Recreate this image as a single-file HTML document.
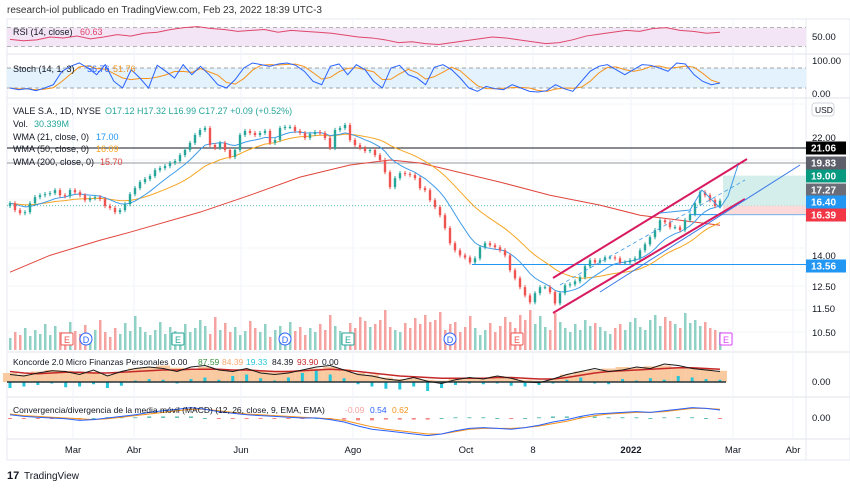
<!DOCTYPE html>
<html><head><meta charset="utf-8">
<style>
body{margin:0;background:#fff;width:850px;height:488px;overflow:hidden;font-family:"Liberation Sans",sans-serif}
svg{display:block}
text{font-family:"Liberation Sans",sans-serif}
</style></head>
<body>
<svg id="c" width="850" height="488" viewBox="0 0 850 488">
<text x="7" y="13" font-size="10" fill="#333">research-iol publicado en TradingView.com, Feb 23, 2022 18:39 UTC-3</text>
<g id="frame">
<rect x="7" y="19" width="843" height="441" fill="none" stroke="#e6e9ef"/>
<line x1="806" y1="19" x2="806" y2="460" stroke="#e6e9ef"/>
<line x1="7" y1="54" x2="850" y2="54" stroke="#e0e3eb"/>
<line x1="7" y1="98" x2="850" y2="98" stroke="#e0e3eb"/>
<line x1="7" y1="352" x2="850" y2="352" stroke="#e0e3eb"/>
<line x1="7" y1="397" x2="850" y2="397" stroke="#e0e3eb"/>
<line x1="7" y1="439" x2="850" y2="439" stroke="#e0e3eb"/>
</g>
<g id="grid"></g>
<g id="panes"></g>
<g id="main"></g>
<g id="labels"></g>
<g><text x="7" y="479" font-size="11" font-weight="bold" fill="#131722">17</text><text x="24" y="479" font-size="10" fill="#131722">TradingView</text></g>
</svg>
<script>
const closes=[17.11,16.67,16.48,16.54,17.11,17.51,17.64,17.71,17.78,17.98,17.64,17.57,17.98,17.84,17.64,17.31,17.44,17.51,17.38,16.93,16.80,16.54,16.67,17.05,17.71,18.12,18.54,18.75,18.97,19.40,19.55,19.70,19.93,20.08,20.54,20.94,21.51,22.17,22.59,22.76,21.34,21.10,21.51,20.94,20.39,20.94,22.17,22.51,22.34,22.17,22.34,22.51,21.51,21.75,22.76,22.85,22.85,22.51,22.34,21.92,22.25,22.42,22.34,21.92,21.10,22.59,22.76,23.03,21.75,21.34,21.10,20.86,20.94,20.54,20.16,19.25,18.19,18.82,19.18,19.11,19.04,18.82,18.12,17.98,17.31,16.86,16.35,15.57,14.70,14.31,14.04,13.93,13.67,13.88,14.48,14.70,14.59,14.48,14.31,14.04,13.27,12.87,12.44,12.06,11.75,12.16,12.44,12.44,12.21,11.70,12.16,12.53,12.58,12.72,12.92,13.47,13.78,13.67,13.78,13.93,13.93,13.88,13.67,13.67,13.78,13.88,14.31,14.64,15.04,15.45,16.04,15.92,15.62,15.62,15.45,16.04,16.41,17.11,17.84,17.64,17.31,16.93,17.27];
const volumes=[12,18,15,22,14,20,16,26,15,24,18,13,28,19,16,25,15,20,30,18,13,22,16,27,19,34,23,18,15,20,28,16,23,19,13,26,18,22,30,24,16,33,20,27,18,23,15,19,29,22,18,26,13,20,24,16,28,19,23,15,22,18,26,20,35,24,19,16,27,22,33,29,23,26,30,40,23,20,18,27,22,32,26,35,28,30,38,20,26,28,18,23,34,22,15,20,27,18,24,33,28,22,35,30,40,26,34,23,20,37,28,22,18,26,20,30,24,27,23,19,16,22,26,20,28,32,23,20,30,35,24,33,29,26,22,37,27,30,24,28,22,20,18];
const ma200Idx=[0,8,18,24,38,48,58,68,76,82,88,98,108,118,126,134,142];
const ma200Val=[13.17,14.04,14.87,15.33,16.54,17.64,18.89,19.78,20.16,19.93,19.40,18.54,17.64,16.99,16.35,16.04,15.74];
const rsiVals=[45,42,44,50,48,52,46,50,55,52,58,60,66,70,72,68,66,62,64,66,60,64,62,60,58,54,50,48,44,38,40,36,34,38,42,46,50,48,44,40,36,38,44,52,56,60,64,62,68,70,64,62,58,60];
const stochK=[20,15,18,12,20,30,70,85,95,80,60,90,40,20,75,50,20,88,70,50,90,60,85,60,30,20,45,80,95,90,85,92,95,88,70,40,30,85,92,60,90,75,40,20,80,88,60,50,30,82,90,75,50,20,10,25,18,15,30,20,10,8,12,30,18,10,40,70,85,90,75,60,75,90,88,80,70,95,92,60,40,30,35];
const koncOrange=[12,10,14,16,15,12,14,10,13,18,20,22,19,18,20,16,15,17,14,13,15,16,18,20,17,12,10,6,4,5,3,2,4,6,5,8,6,3,2,4,10,14,16,18,20,19,21,22,20,18,17,15];
const koncCyan=[-8,-6,-4,-2,-7,-6,-3,-8,-5,2,4,3,-2,4,6,3,8,10,5,2,6,12,16,10,5,-3,-6,-9,-10,-6,-12,-8,-4,-2,-3,-2,-5,-6,-4,-2,3,6,-2,-3,4,2,5,3,8,6,4,3];
const koncBlack=[10,8,12,15,14,10,16,8,14,18,20,18,14,20,22,16,14,18,12,10,12,16,20,22,16,10,8,4,2,6,1,-2,3,6,4,8,5,0,-1,4,10,14,18,14,16,20,18,24,22,18,16,14];
const koncRed=[14,12,11,12,13,13,12,12,13,14,15,16,16,17,17,17,16,16,15,14,14,15,16,17,16,14,12,10,8,7,6,5,5,5,5,6,6,5,4,4,6,9,12,14,15,16,17,18,19,19,18,17];
const macdLine=[4,2,1,0,-1,-3,-2,0,2,4,7,9,11,13,11,8,6,4,3,2,1,0,0,-2,-5,-10,-14,-16,-18,-20,-22,-20,-16,-13,-12,-13,-14,-12,-9,-5,-2,2,5,6,7,8,7,9,11,13,12,10];
const macdSignal=[5,3,2,1,0,-1,-2,-1,1,3,5,7,9,11,11,9,7,5,4,3,2,1,0,-1,-3,-7,-11,-14,-16,-18,-20,-20,-17,-14,-13,-13,-13,-12,-10,-7,-4,0,3,5,6,7,7,8,10,12,12,11];
const monthLabels=["Mar","Abr","Jun","Ago","Oct","8","2022","Mar","Abr"];
const monthIdx=[12.6,24.8,46.2,68.6,91.2,104.6,124.2,144.6,156.6];

const NS="http://www.w3.org/2000/svg";
const X0=10,DX=5;
function xs(i){return X0+i*DX;}
function yP(p){return 137+(Math.log(22)-Math.log(p))*263.5;}
function yVol(v){return 350-v;}
function yRsi(v){return 37-(v-50)*0.47;}
function ySt(v){return 94.7-v*0.334;}
function yK(v){return 382-v*0.75;}
function yM(v){return 418-v*0.8;}
function mk(tag,attrs,parent){const e=document.createElementNS(NS,tag);for(const k in attrs)e.setAttribute(k,attrs[k]);parent.appendChild(e);return e;}
const grid=document.getElementById('grid'),panes=document.getElementById('panes'),main=document.getElementById('main'),lab=document.getElementById('labels');

monthLabels.forEach((m,j)=>{const x=xs(monthIdx[j]);
 const g=mk('line',{x1:x,y1:19,x2:x,y2:439,stroke:'#f0f3fa'},grid);
 
 
 const t=mk('text',{x:x,y:453,'font-size':9.5,fill:'#131722','text-anchor':'middle','font-weight':m==='2022'?'bold':'normal'},lab);t.textContent=m;
 
 
});
[70,104,160,200,248,286,310,332].forEach(y=>mk('line',{x1:7,y1:y,x2:806,y2:y,stroke:'#f3f5f9'},grid));

function poly(arr,fx,fy,stroke,w,parent,name){const pts=arr.map((v,i)=>fx(i)+','+fy(v)).join(' ');const p=mk('polyline',{points:pts,fill:'none',stroke:stroke,'stroke-width':w},parent);
 
 return p;}
const sparseX=i=>xs(i*(closes.length-1)/(rsiVals.length-1));
mk('rect',{x:7,y:yRsi(70),width:799,height:yRsi(30)-yRsi(70),fill:'#f3e5f5'},panes);
mk('line',{x1:7,y1:yRsi(70),x2:806,y2:yRsi(70),stroke:'#999','stroke-dasharray':'4 3','stroke-width':0.7},panes);
mk('line',{x1:7,y1:yRsi(30),x2:806,y2:yRsi(30),stroke:'#999','stroke-dasharray':'4 3','stroke-width':0.7},panes);
poly(rsiVals,sparseX,yRsi,'#e0466a',1,panes,'rsi-line');
mk('rect',{x:7,y:ySt(80),width:799,height:ySt(20)-ySt(80),fill:'#e3f2fd'},panes);
mk('line',{x1:7,y1:ySt(80),x2:806,y2:ySt(80),stroke:'#888','stroke-dasharray':'4 3','stroke-width':0.7},panes);
mk('line',{x1:7,y1:ySt(20),x2:806,y2:ySt(20),stroke:'#888','stroke-dasharray':'4 3','stroke-width':0.7},panes);
const stD=stochK.map((v,i)=>{const a=stochK.slice(Math.max(0,i-2),i+1);return a.reduce((s,b)=>s+b,0)/a.length;});
const stX=i=>xs(i*(closes.length-1)/(stochK.length-1));
poly(stD,stX,ySt,'#f7931a',1,panes,'stoch-d-line');
poly(stochK,stX,ySt,'#2962ff',1,panes,'stoch-k-line');
const kX=i=>xs(i*(closes.length-1)/(koncOrange.length-1));
const kw=(closes.length-1)*DX/(koncOrange.length-1);
koncOrange.forEach((v,i)=>{const r=mk('rect',{x:kX(i)-kw/2,y:yK(v),width:kw,height:yK(0)-yK(v),fill:'#f9c9a0'},panes);
 
 });
koncCyan.forEach((v,i)=>{const y1=Math.min(yK(v),yK(0)),h=Math.abs(yK(v)-yK(0));const r=mk('rect',{x:kX(i)-1.5,y:y1,width:3,height:h,fill:'#26c6da'},panes);
 
 });
mk('line',{x1:7,y1:yK(0),x2:726,y2:yK(0),stroke:'#263238','stroke-width':1.5},panes);
poly(koncRed,kX,yK,'#c62828',1.5,panes,'koncorde-red-line');
poly(koncBlack,kX,yK,'#1b1b1b',1,panes,'koncorde-black-line');
macdLine.forEach((v,i)=>{const h=v-macdSignal[i];const y1=Math.min(yM(h),yM(0));const r=mk('rect',{x:kX(i)-2,y:y1,width:4,height:Math.max(1,Math.abs(yM(h)-yM(0))),fill:h>=0?'#26a69a':'#ef5350',opacity:0.7},panes);
 
 });
poly(macdSignal,kX,yM,'#f7931a',1,panes,'macd-signal-line');
poly(macdLine,kX,yM,'#2962ff',1,panes,'macd-line');

volumes.forEach((v,i)=>{const up=i===0||closes[i]>=closes[i-1];const r=mk('rect',{x:xs(i)-1,y:yVol(v),width:2.5,height:v,fill:up?'#8fd1c5':'#f5a3a1'},main);
 
 });
[[148,'#131722',7],[163,'#9598a1',7]].forEach(l=>mk('line',{x1:l[2],y1:l[0],x2:806,y2:l[0],stroke:l[1],'stroke-width':1},main));
mk('line',{x1:7,y1:yP(16.95),x2:806,y2:yP(16.95),stroke:'#26a69a','stroke-dasharray':'1 2','stroke-width':0.8},main);
mk('line',{x1:472,y1:yP(13.56),x2:806,y2:yP(13.56),stroke:'#2196f3'},main);
mk('line',{x1:690,y1:yP(16.39),x2:806,y2:yP(16.39),stroke:'#2196f3'},main);
mk('rect',{x:723,y:yP(19.0),width:83,height:yP(16.95)-yP(19.0),fill:'#cdebe7',opacity:0.85},main);
mk('rect',{x:723,y:yP(16.95),width:83,height:yP(16.39)-yP(16.95),fill:'#fbd3d3',opacity:0.85},main);
function wma(p){return closes.map((c,i)=>{let s=0,w=0;for(let k=0;k<p;k++){const v=closes[Math.max(0,i-k)];s+=v*(p-k);w+=p-k;}return s/w;});}
poly(ma200Val,i=>xs(ma200Idx[i]),yP,'#e0463c',1,main,'wma-200-line');
poly(wma(29),xs,yP,'#f5a623',1,main,'wma-50-line');
poly(wma(12),xs,yP,'#3d9be9',1,main,'wma-21-line');
closes.forEach((c,i)=>{const o=i?closes[i-1]:c*0.99;const up=c>=o;const col=up?'#26a69a':'#ef5350';
 const hi=Math.max(o,c)*1.008,lo=Math.min(o,c)*0.992;
 const g=mk('g',{},main);
 
 
 mk('line',{x1:xs(i),y1:yP(hi),x2:xs(i),y2:yP(lo),stroke:col,'stroke-width':1},g);
 mk('rect',{x:xs(i)-1.2,y:Math.min(yP(o),yP(c)),width:2.4,height:Math.max(1,Math.abs(yP(o)-yP(c))),fill:col},g);
});
mk('line',{x1:553,y1:278,x2:747,y2:159,stroke:'#d81b60','stroke-width':2},main);
mk('line',{x1:553,y1:313,x2:745,y2:199,stroke:'#d81b60','stroke-width':2},main);
mk('line',{x1:600,y1:292,x2:800,y2:165,stroke:'#3d7be9','stroke-width':1},main);
mk('polyline',{points:'660,213 690,210 702,190 720,208 728,196 738,165',fill:'none',stroke:'#3d9be9','stroke-width':1},main);
mk('line',{x1:560,y1:285,x2:745,y2:180,stroke:'#3d9be9','stroke-width':0.8,'stroke-dasharray':'4 3'},main);

[[67,'E','#ef5350'],[86,'D','#2962ff'],[178,'E','#26a69a'],[285,'D','#2962ff'],[348,'E','#26a69a'],[450,'D','#2962ff'],[517,'E','#ef5350'],[726,'E','#e040fb']].forEach(m=>{
 const g=mk('g',{},main);
 
 
 if(m[1]==='D')mk('circle',{cx:m[0],cy:339,r:6,fill:'#fff',stroke:m[2]},g);else mk('rect',{x:m[0]-6,y:333,width:12,height:12,rx:1,fill:'#fff',stroke:m[2]},g);
 const t=mk('text',{x:m[0],y:343,'font-size':9,fill:m[2],'text-anchor':'middle'},g);t.textContent=m[1];
});

function txt(x,y,s,col,size,name){const t=mk('text',{x:x,y:y,'font-size':size||9,fill:col},lab);t.textContent=s;
 
 return t;}
txt(13,35,'RSI (14, close)','#131722',9,'rsi-legend');txt(80,35,'60.63','#e0466a',9,'rsi-value');
txt(13,72,'Stoch (14, 1, 3)','#131722',9,'stoch-legend');txt(87,72,'56.76','#2962ff',9,'stoch-k-value');txt(113,72,'51.76','#f7931a',9,'stoch-d-value');
txt(13,114,'VALE S.A., 1D, NYSE','#131722',9,'symbol-legend');
txt(105,114,'O17.12  H17.32  L16.99  C17.27  +0.09 (+0.52%)','#26a69a',9,'ohlc-values');
txt(13,127,'Vol.','#131722',9,'vol-legend');txt(34,127,'30.339M','#26a69a',9,'vol-value');
txt(13,140,'WMA (21, close, 0)','#131722',9,'wma21-legend');txt(96,140,'17.00','#2196f3',9,'wma21-value');
txt(13,152,'WMA (50, close, 0)','#131722',9,'wma50-legend');txt(96,152,'16.09','#f5a623',9,'wma50-value');
txt(13,165,'WMA (200, close, 0)','#131722',9,'wma200-legend');txt(100,165,'15.70','#e0463c',9,'wma200-value');
txt(13,365,'Koncorde 2.0 Micro Finanzas Personales  0.00','#131722',8.5,'koncorde-legend');
txt(198,365,'87.59','#388e3c',8.5,'koncorde-v1');txt(222,365,'84.39','#f9a870',8.5,'koncorde-v2');txt(246,365,'19.33','#26c6da',8.5,'koncorde-v3');txt(272,365,'84.39','#131722',8.5,'koncorde-v4');txt(297,365,'93.90','#c62828',8.5,'koncorde-v5');txt(322,365,'0.00','#131722',8.5,'koncorde-v6');
txt(13,413,'Convergencia/divergencia de la media móvil (MACD) (12, 26, close, 9, EMA, EMA)','#131722',8.5,'macd-legend');
txt(345,413,'-0.09','#f5a3a1',8.5,'macd-hist-value');txt(370,413,'0.54','#2962ff',8.5,'macd-value');txt(392,413,'0.62','#f7931a',8.5,'macd-signal-value');

[['50.00',40],['100.00',64],['0.00',97],['22.00',141],['14.00',259],['12.50',290],['11.50',312],['10.50',336],['0.00',385],['0.00',421]].forEach(a=>{
 txt(812,a[1],a[0],'#131722',9.5,'y-tick-label');});
const usd=mk('rect',{x:812,y:103,width:22,height:13,rx:3,fill:'#fff',stroke:'#d1d4dc'},lab);


txt(815,113,'USD','#131722',8.5,'currency-label');
[['21.06',148,'#000'],['19.83',163,'#5d606b'],['19.00',176,'#089981'],['17.27',190,'#6a6d78'],['16.40',202,'#2196f3'],['16.39',215,'#f23645'],['13.56',266,'#2196f3']].forEach(l=>{
 const r=mk('rect',{x:806,y:l[1]-6.5,width:40,height:13,fill:l[2]},lab);
 
 
 const t=txt(811,l[1]+3.5,l[0],'#fff',10,'price-label');t.setAttribute('font-weight','bold');
});
</script>
</body></html>
